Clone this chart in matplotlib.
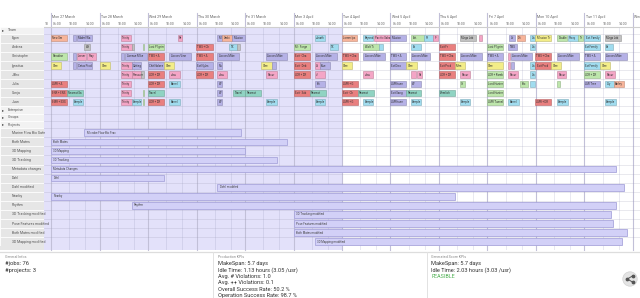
import matplotlib
matplotlib.use("Agg")
import matplotlib.pyplot as plt
from matplotlib.patches import Rectangle, Circle
from matplotlib.colors import to_rgb

W, H = 640, 298

# ---- data ----
day_labels = ["Mon 27 March", "Tue 28 March", "Wed 29 March", "Thu 30 March", "Fri 31 March",
              "Mon 3 April", "Tue 4 April", "Wed 5 April", "Thu 6 April", "Fri 7 April",
              "Mon 10 April", "Tue 11 April", "Wed 12"]
hour_labels = ["06:00", "10:00", "14:00"]
hour_ticks = [6, 10, 14]
day_start, day_end = 5.5, 17.5
today = 6.0

team = ["Egon", "Andrea", "Christophe", "Ignatius", "J.Bro", "Julia", "Sonja", "Juan"]

egon = [(0.0, .33, "o", "New Sm"), (0.45, .07, "p", ""), (0.53, .32, "p", "Mabel Wa"), (1.44, .2, "k", "Trinity"),
        (2.61, .1, "k", "Re"), (3.43, .1, "p", "Mi"), (3.53, .2, "o", "Ambi"), (3.74, .26, "p", "Mission"),
        (5.44, .2, "c", "Jonath"), (5.99, .32, "o", "Lorem Ips"), (6.44, .2, "c", "Beyond"),
        (6.65, .33, "k", "Pacific Saha"), (6.99, .33, "p", "Mission"), (7.42, .28, "g", "Ext."),
        (7.7, .18, "c", "Pi"), (7.88, .1, "k", "Fr"), (8.43, .33, "s", "Mega Lab"), (8.83, .06, "k", ""),
        (9.45, .12, "p", "Av"), (9.6, .17, "o", "Dri"), (9.88, .1, "c", "An"), (9.99, .33, "y", "Mission Tr"),
        (10.44, .19, "g", "Double"), (10.65, .22, "c", "Proxy"), (10.87, .1, "g", "Tr"),
        (11.0, .32, "c", "Ext. Family"), (11.42, .34, "s", "Mega Lab")]
andrea = [(0.69, .12, "s", "We"), (1.44, .22, "k", "Trinity"), (1.66, .05, "s", ""), (1.89, .03, "g", ""),
          (1.99, .34, "g", "Lost Pilgrim"), (2.99, .34, "r", "TWS + Ch"), (3.68, .15, "c", "TX"),
          (3.84, .05, "s", ""), (5.0, .33, "g", "Mr. Forge"), (5.75, .16, "c", "TX"), (6.44, .33, "g", "Walt Ti"),
          (6.77, .07, "c", ""), (7.42, .2, "c", "Ex"), (7.99, .33, "r", "Exit Fr"), (8.98, .33, "g", "Lost Pilgrim"),
          (9.43, .17, "p", "TWS"), (9.88, .1, "c", "An"), (10.99, .33, "c", "Ext Family"), (11.42, .16, "c", "Sa")]
christophe = [(0, .33, "g", "Paradise"), (0.45, .07, "p", ""), (0.53, .19, "k", "Lesser"), (0.74, .19, "k", "Pray"),
              (1.44, .07, "p", ""), (1.53, .45, "p", "Avenue Mike"), (1.99, .34, "r", "TWS + A"),
              (2.44, .44, "p", "Across Vine"), (2.99, .34, "r", "TWS + A"), (3.43, .45, "p", "Across Mike"),
              (4.43, .44, "p", "Across Mike"), (5.0, .33, "r", "Exit · Cha"), (5.44, .45, "p", "Across Mike"),
              (5.99, .33, "r", "TWS + Cha"), (6.44, .45, "p", "Across Mike"), (6.99, .33, "p", "TWS + A"),
              (7.42, .39, "p", "Across Mike"), (7.99, .33, "r", "TWS + Cha"), (8.43, .45, "p", "Across Mike"),
              (8.98, .33, "p", "TWS + A"), (9.43, .04, "k", ""), (9.48, .43, "p", "Across Mike"),
              (9.98, .33, "r", "TWS + Cha"), (10.43, .45, "p", "Across Mike"), (10.99, .33, "p", "TWS + A"),
              (11.42, .45, "p", "Across Mike")]
ignatius = [(0, .21, "y", "Glee"), (0.45, .07, "p", ""), (0.53, .32, "p", "Cetus Prod"), (1.01, .2, "y", "Glee"),
            (1.44, .23, "k", "Trinity"), (1.66, .2, "p", "Cutting"), (1.99, .34, "p", "Chit Nalsen"),
            (2.33, .2, "y", "Glee"), (2.99, .34, "p", "Ext Nyles"), (3.43, .1, "p", "Nu"), (4.33, .22, "y", "Glee"),
            (4.55, .09, "p", ""), (5.0, .33, "r", "Exit · Deb"), (5.44, .1, "k", "At"), (5.54, .22, "p", "Blue"),
            (5.99, .22, "y", "Glee"), (6.99, .33, "p", "Ext Diso"), (7.32, .22, "y", "Glee"),
            (7.99, .33, "r", "Exit Prod"), (8.32, .22, "y", "Mem"), (8.98, .33, "y", "Glee"), (9.43, .04, "k", ""),
            (9.48, .06, "p", ""), (9.88, .1, "c", "An"), (9.99, .33, "r", "Exit Prod"), (10.32, .2, "y", "Glee"),
            (10.99, .33, "c", "Ext Family"), (11.32, .2, "y", "Glee")]
jbro = [(1.44, .22, "k", "Trinity"), (1.66, .2, "k", "Pressure"), (1.86, .05, "s", ""), (1.99, .34, "r", "LDR + DR"),
        (2.44, .22, "k", "Jesu"), (2.99, .34, "r", "LDR + DR"), (3.43, .2, "k", "Jesu"), (4.43, .22, "k", "Pacur"),
        (5.0, .33, "r", "LDR + DR"), (5.44, .2, "k", "Ji"), (6.44, .2, "k", "Jesu"), (7.42, .1, "k", ""),
        (7.55, .1, "k", "Pa"), (7.99, .33, "r", "LDR + DR"), (8.43, .2, "k", "Pacur"), (8.98, .33, "g", "LDR + Ramb"),
        (9.43, .2, "k", "Pacur"), (9.88, .1, "c", "An"), (10.43, .19, "k", "Pacur"), (10.99, .33, "g", "LDR + DR"),
        (11.42, .2, "k", "Pacur")]
julia = [(0, .33, "r", "LMR + A"), (1.44, .2, "k", "Trinity"), (1.99, .34, "r", "LDR + DR"), (2.44, .22, "c", "Barrel"),
         (3.43, .1, "p", "Wi"), (5.44, .2, "p", "Bri"), (5.99, .33, "r", "LMR + G"), (6.99, .33, "p", "LMR tune"),
         (7.42, .2, "p", "Wi"), (8.43, .1, "g", "Gr"), (8.98, .33, "g", "Lord Hunter"), (9.67, .16, "g", "Bro"),
         (9.88, .1, "c", ""), (10.43, .07, "g", ""), (10.99, .33, "p", "LMI Tree"), (11.42, .18, "c", "Lily"),
         (11.6, .22, "o", "Barley")]
sonja = [(0, .33, "r", "ENR + ENS"), (0.33, .33, "t", "Nearest Sa"), (1.44, .2, "k", "Trinity"), (1.89, .03, "g", ""),
         (1.99, .34, "t", "Travel"), (3.43, .1, "p", "Wi"), (3.76, .25, "t", "Travel"), (4.01, .31, "t", "Nearest"),
         (5.0, .33, "r", "Exit · Sub"), (5.33, .33, "t", "Nearest"), (5.99, .33, "r", "Exit · Ch"),
         (6.32, .33, "t", "Nearest"), (6.99, .33, "p", "Exit Sang"), (7.32, .3, "t", "Nearest"),
         (7.99, .33, "t", "Ziemlich"), (8.98, .33, "g", "Lord Hunter")]
juan = [(0, .33, "r", "EMR + EXS"), (0.45, .2, "c", "Sample"), (1.44, .22, "k", "Trinity"), (1.66, .2, "c", "Sample"),
        (1.89, .03, "g", ""), (1.99, .34, "r", "LDR + DR"), (2.44, .22, "c", "Barrel"), (3.43, .1, "p", "Wi"),
        (4.43, .22, "c", "Sample"), (5.44, .2, "c", "Sample"), (5.99, .33, "r", "LMR + G"), (6.44, .2, "c", "Sample"),
        (6.99, .33, "p", "LMR tune"), (7.42, .2, "c", "Sample"), (8.43, .2, "c", "Sample"),
        (8.98, .33, "g", "LMR Tunnel"), (9.43, .22, "c", "Barrel"), (9.98, .33, "r", "LMR + DR"),
        (10.43, .22, "c", "Sample"), (11.42, .22, "c", "Sample")]
team_jobs = [egon, andrea, christophe, ignatius, jbro, julia, sonja, juan]

projects = ["Marine Flow Bio Safe", "Both Mates", "3D Mapping", "3D Tracking", "Metadata changes", "Dahl",
            "Dahl modified", "Nearby", "Rhythm", "3D Tracking modified", "Pose Features modified",
            "Both Mates modified", "3D Mapping modified"]
proj_bar_labels = ["Microbe Flow Bio Frac", "Both Mates", "3D Mapping", "3D Tracking", "Metadata Changes", "Dahl",
                   "Dahl modified", "Nearby", "Rhythm", "3D Tracking modified", "Pose Features modified",
                   "Both Mates modified", "3D Mapping modified"]
proj_start = [0.69, 0, 0, 0, 0, 0, 3.43, 0, 1.66, 5.0, 5.0, 5.0, 5.44]
proj_end = [3.91, 4.87, 3.99, 4.65, 11.64, 2.32, 11.81, 8.32, 11.64, 11.54, 11.59, 11.87, 11.77]

general_info = ["#jobs: 76", "#projects: 3"]
prod_kpis = ["MakeSpan: 5.7 days", "Idle Time: 1.13 hours (3.05 /usr)", "Avg. # Violations: 1.0",
             "Avg. ++ Violations: 0.1", "Overall Success Rate: 50.2 %", "Operation Success Rate: 98.7 %"]
gen_kpis = ["MakeSpan: 5.7 days", "Idle Time: 2.03 hours (3.03 /usr)"]

palette = {"o": "#f7b49a", "k": "#f4a5c6", "p": "#b5b1e6", "g": "#bde6ab", "r": "#e97f7f",
           "t": "#8fd3c2", "y": "#f3ed88", "c": "#a0dcef", "s": "#c1c1c1"}


def darker(c, f=0.78):
    r, g, b = to_rgb(c)
    return (r * f, g * f, b * f)


# ---- layout of rows (pixel units on the y axis) ----
rows = [("Team", "hdr")] + [(n, "res") for n in team] + \
       [("Enterprise", "hdr2"), ("Groups", "hdr2"), ("Projects", "hdr2")] + [(n, "proj") for n in projects]
heights = {"hdr": 6.8, "res": 9.06, "hdr2": 7.3, "proj": 9.08}
tops = []
y = 27.0
for name, kind in rows:
    tops.append(y)
    y += heights[kind]
body_bottom = 250.0

fig = plt.figure(figsize=(W / 100, H / 100), dpi=100)
fig.patch.set_facecolor("white")
plt.rcParams["font.family"] = ["Roboto", "DejaVu Sans"]

ax_b = (H - body_bottom) / H
ax_h = (body_bottom - 27) / H
ax = fig.add_axes([44 / W, ax_b, (W - 44) / W, ax_h])
ax.set_xlim(-0.145, 12.145)
ax.set_ylim(body_bottom, 27)
ax.axis("off")

# past shading
ax.axvspan(-0.145, today, color="#e3e1fa", zorder=0, lw=0)

# grid
for d in range(13):
    ax.plot([d, d], [13, body_bottom], color="#c2c0d8", lw=0.8, zorder=1, clip_on=False)
    for h in hour_ticks[1:]:
        xf = d + (h - day_start) / (day_end - day_start)
        ax.plot([xf, xf], [27, body_bottom], color=(0.55, 0.55, 0.7, 0.22), lw=0.6, zorder=1)
for t in tops[1:]:
    ax.axhline(t, color=(0.6, 0.6, 0.7, 0.3), lw=0.5, zorder=1)
ax.plot([-0.145, 12.145], [27, 27], color="#cfcfcf", lw=0.8, clip_on=False, zorder=2)

# header labels
for d, lab in enumerate(day_labels):
    ax.text(d + 0.03, 17, lab, fontsize=2.6, color="#666", va="center", ha="left", clip_on=False)
    for h, hl in zip(hour_ticks, hour_labels):
        xf = d + (h - day_start) / (day_end - day_start)
        if xf < 12.0:
            ax.text(xf, 24, hl, fontsize=2.4, color="#666", va="center", ha="left", clip_on=False)
ax.text(-0.13, 24, "18", fontsize=2.4, color="#666", va="center", ha="left", clip_on=False)

# resource jobs
for i, jobs in enumerate(team_jobs):
    top = tops[1 + i]
    yc = top + heights["res"] / 2
    for s, dur, col, lab in jobs:
        rect = Rectangle((s, yc - 3.1), dur, 6.2, facecolor=palette[col], edgecolor=darker(palette[col]),
                         lw=0.4, zorder=3)
        ax.add_patch(rect)
        if lab:
            t = ax.text(s + 0.03, yc, lab, fontsize=2.0, color="#333", va="center", ha="left", zorder=4)
            t.set_clip_path(rect)

# project bars
first_proj = 1 + len(team) + 3
for j, (s, e, lab) in enumerate(zip(proj_start, proj_end, proj_bar_labels)):
    top = tops[first_proj + j]
    yc = top + heights["proj"] / 2
    rect = Rectangle((s, yc - 3.3), e - s, 6.6, facecolor="#d2d0f7", edgecolor="#a9a6dc", lw=0.6, zorder=3)
    ax.add_patch(rect)
    t = ax.text(s + 0.05, yc, lab, fontsize=2.1, color="#444", va="center", ha="left", zorder=4)
    t.set_clip_path(rect)

# label column
lab_ax = fig.add_axes([0, ax_b, 44 / W, ax_h])
lab_ax.set_xlim(0, 44)
lab_ax.set_ylim(body_bottom, 27)
lab_ax.axis("off")
for (name, kind), top in zip(rows, tops):
    h = heights[kind]
    fc = "#f2f2f2" if kind in ("hdr", "hdr2") else "#e6e6e6"
    lab_ax.add_patch(Rectangle((0, top), 44, h, facecolor=fc, edgecolor="white", lw=0.5))
    yc = top + h / 2
    if kind in ("hdr", "hdr2"):
        lab_ax.text(1.5, yc, "\u25b8", fontsize=3, color="#444", va="center", ha="left")
        lab_ax.text(8, yc, name, fontsize=2.5, color="#555", va="center", ha="left")
    else:
        lab_ax.text(12, yc, name, fontsize=2.5, color="#555", va="center", ha="left")
last_top = tops[-1] + heights["proj"]
lab_ax.add_patch(Rectangle((0, last_top), 44, body_bottom - last_top, facecolor="#e6e6e6", lw=0))


# ---- bottom KPI panels ----
def fy(ypx):
    return 1 - ypx / H


fig.add_artist(plt.Line2D([0, 1], [fy(251.5)] * 2, transform=fig.transFigure, color="#dddddd", lw=0.9))
for xs in (213, 427):
    fig.add_artist(plt.Line2D([xs / W] * 2, [fy(252), 0], transform=fig.transFigure, color="#e2e2e2", lw=0.7))

fig.text(5 / W, fy(257), "General Infos", fontsize=2.6, color="#888", va="center")
for k, s in enumerate(general_info):
    fig.text(5 / W, fy(264 + 6.4 * k), s, fontsize=4.2, color="#333", va="center")

fig.text(218 / W, fy(257), "Production KPIs", fontsize=2.6, color="#888", va="center")
for k, s in enumerate(prod_kpis):
    fig.text(218 / W, fy(263.8 + 6.35 * k), s, fontsize=4.1, color="#333", va="center")

fig.text(431 / W, fy(257), "Generated Score KPIs", fontsize=2.6, color="#888", va="center")
for k, s in enumerate(gen_kpis):
    fig.text(431 / W, fy(263.8 + 6.35 * k), s, fontsize=4.1, color="#333", va="center")
fig.text(431 / W, fy(276.5), "FEASIBLE", fontsize=3.9, color="#4caf50", va="center")

# share button
ic = fig.add_axes([621 / W, fy(288), 18 / W, 18 / H])
ic.set_xlim(-1, 1)
ic.set_ylim(-1, 1)
ic.axis("off")
ic.add_patch(Circle((0, 0), 0.8, facecolor="#e4e4e4", edgecolor="#d0d0d0", lw=0.5))
ic.plot([0.3, -0.3, 0.3], [0.35, 0, -0.35], color="#555", lw=0.7)
ic.scatter([0.3, -0.3, 0.3], [0.35, 0, -0.35], s=3, color="#555", zorder=3)

fig.savefig("out.png", dpi=100, facecolor="white")
